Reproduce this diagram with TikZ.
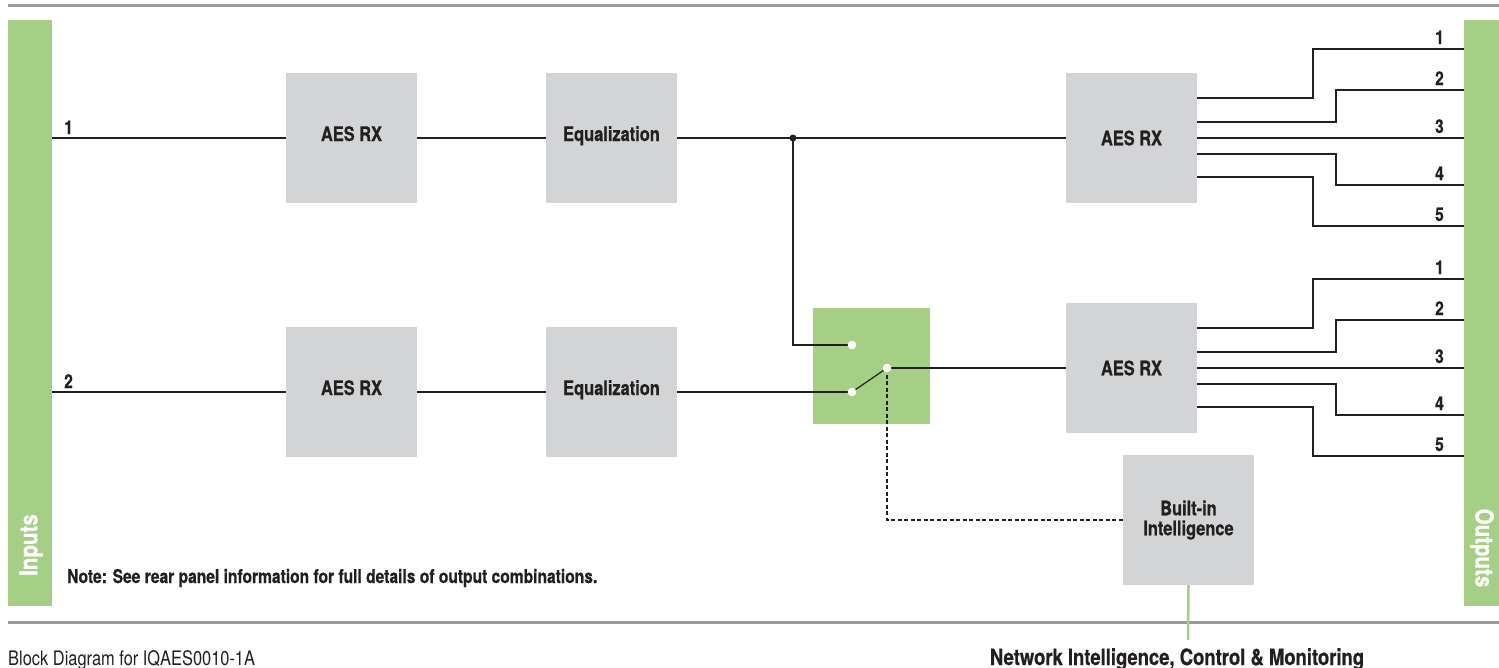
\documentclass[tikz,border=0pt]{standalone}
\usepackage{fontspec}
\setmainfont{TeX Gyre Heros}[FakeStretch=0.82, BoldFeatures={FakeBold=0.6}]
\usetikzlibrary{calc}
\definecolor{grn}{HTML}{A6CF86}
\definecolor{boxgray}{HTML}{D3D4D6}
\definecolor{rulegray}{HTML}{9A9B9D}
\definecolor{txt}{HTML}{231F20}
\tikzset{
  blk/.style={fill=boxgray, draw=none, minimum width=131pt, minimum height=130pt, inner sep=0pt,
    text=txt, font=\fontsize{20}{21}\selectfont\bfseries, align=center},
  raised/.style={text height=15pt, text depth=9pt},
  bar/.style={fill=grn, draw=none, inner sep=0pt},
  barlbl/.style={text=white, font=\fontsize{25}{27}\selectfont\bfseries, inner sep=0pt},
  wire/.style={draw=txt, line width=1.2pt},
  lbl/.style={text=txt, font=\fontsize{19}{21}\selectfont\bfseries, inner sep=0pt},
  rulebar/.style={draw=rulegray, line width=3pt},
  swdot/.style={fill=white, draw=none},
}
\begin{document}
\begin{tikzpicture}[x=1pt,y=-1pt]
\useasboundingbox (0,0) rectangle (1499,667);
\clip (0,0) rectangle (1499,667);
% rules
\coordinate (rt0) at (8,5); \coordinate (rt1) at (1499,5);
\coordinate (rb0) at (8,622); \coordinate (rb1) at (1499,622);
\draw[rulebar] (rt0) -- (rt1);
\draw[rulebar] (rb0) -- (rb1);
% side bars
\node[bar, minimum width=44pt, minimum height=586pt] (inbar) at (30,313) {};
\node[bar, minimum width=44pt, minimum height=586pt] (outbar) at (1486,313) {};
\node[barlbl, rotate=90] (inlbl) at (31,545) {Inputs};
\node[barlbl, rotate=-90] (outlbl) at (1482,548) {Outputs};
% blocks
\node[blk, raised] (aes1) at (351.5,138) {AES RX};
\node[blk, raised] (eq1) at (611.5,138) {Equalization};
\node[blk, raised] (aes2) at (351.5,392) {AES RX};
\node[blk, raised] (eq2) at (611.5,392) {Equalization};
\node[blk] (outA) at (1131.5,138) {AES RX};
\node[blk] (outB) at (1131.5,368) {AES RX};
\node[blk] (brain) at (1188.5,520) {Built-in\\[-1pt]Intelligence};
\node[bar, minimum width=117pt, minimum height=116pt] (sw) at (871.5,366) {};
% input wires
\coordinate (in1) at (52,138);
\coordinate (in2) at (52,392);
\draw[wire] (in1) -- (aes1.west);
\draw[wire] (in2) -- (aes2.west);
\node[lbl, anchor=base west] (in1lbl) at (64,134) {1};
\node[lbl, anchor=base west] (in2lbl) at (64,388) {2};
\draw[wire] (aes1.east) -- (eq1.west);
\draw[wire] (aes2.east) -- (eq2.west);
% switch
\coordinate (sw1) at (852,345);
\coordinate (sw2) at (852,392);
\coordinate (swp) at (887,368);
\coordinate (jn) at (793,138);
\draw[wire] (eq1.east) -- (outA.west);
\draw[wire] (jn) |- (sw1);
\draw[wire] (eq2.east) -- (sw2);
\draw[wire] (sw2) -- (swp);
\draw[wire] (swp) -- (outB.west);
\draw[draw=txt, line width=1.6pt, dash pattern=on 4pt off 2.5pt] (swp) |- (brain.west);
\fill[txt] (jn) circle (3.5);
\fill[swdot] (sw1) circle (4.3);
\fill[swdot] (sw2) circle (4.3);
\fill[swdot] (swp) circle (4.3);
% network link
\coordinate (net) at (1188,640);
\draw[draw=grn, line width=2.5pt] (brain.south) -- (net);
% outputs of A
\coordinate (oA1) at (1464,49);
\coordinate (oA2) at (1464,90);
\coordinate (oA3) at (1464,138);
\coordinate (oA4) at (1464,185);
\coordinate (oA5) at (1464,226);
\draw[wire] (outA.east) ++(0,-40) -| (1313,49) -- (oA1);
\draw[wire] (outA.east) ++(0,-16) -| (1336,90) -- (oA2);
\draw[wire] (outA.east) -- (oA3);
\draw[wire] (outA.east) ++(0,16) -| (1336,185) -- (oA4);
\draw[wire] (outA.east) ++(0,39) -| (1313,226) -- (oA5);
\node[lbl, anchor=base east] (lA1) at (1444,44) {1};
\node[lbl, anchor=base east] (lA2) at (1444,85) {2};
\node[lbl, anchor=base east] (lA3) at (1444,133) {3};
\node[lbl, anchor=base east] (lA4) at (1444,180) {4};
\node[lbl, anchor=base east] (lA5) at (1444,221) {5};
% outputs of B
\coordinate (oB1) at (1464,279);
\coordinate (oB2) at (1464,320);
\coordinate (oB3) at (1464,368);
\coordinate (oB4) at (1464,415);
\coordinate (oB5) at (1464,456);
\draw[wire] (outB.east) ++(0,-40) -| (1313,279) -- (oB1);
\draw[wire] (outB.east) ++(0,-16) -| (1336,320) -- (oB2);
\draw[wire] (outB.east) -- (oB3);
\draw[wire] (outB.east) ++(0,16) -| (1336,415) -- (oB4);
\draw[wire] (outB.east) ++(0,39) -| (1313,456) -- (oB5);
\node[lbl, anchor=base east] (lB1) at (1444,274) {1};
\node[lbl, anchor=base east] (lB2) at (1444,315) {2};
\node[lbl, anchor=base east] (lB3) at (1444,363) {3};
\node[lbl, anchor=base east] (lB4) at (1444,410) {4};
\node[lbl, anchor=base east] (lB5) at (1444,451) {5};
% texts
\node[text=txt, font=\fontsize{19}{21}\selectfont\bfseries, anchor=base west, inner sep=0pt] (note) at (67,583)
  {Note: See rear panel information for full details of output combinations.};
\node[text=txt, font=\fontsize{20}{22}\selectfont, anchor=base west, inner sep=0pt] (cap) at (8,665)
  {Block Diagram for IQAES0010-1A};
\node[text=txt, font=\fontsize{22.5}{24}\selectfont\bfseries, anchor=base, inner sep=0pt] (netlbl) at (1177,665)
  {Network Intelligence, Control \& Monitoring};
\end{tikzpicture}
\end{document}
